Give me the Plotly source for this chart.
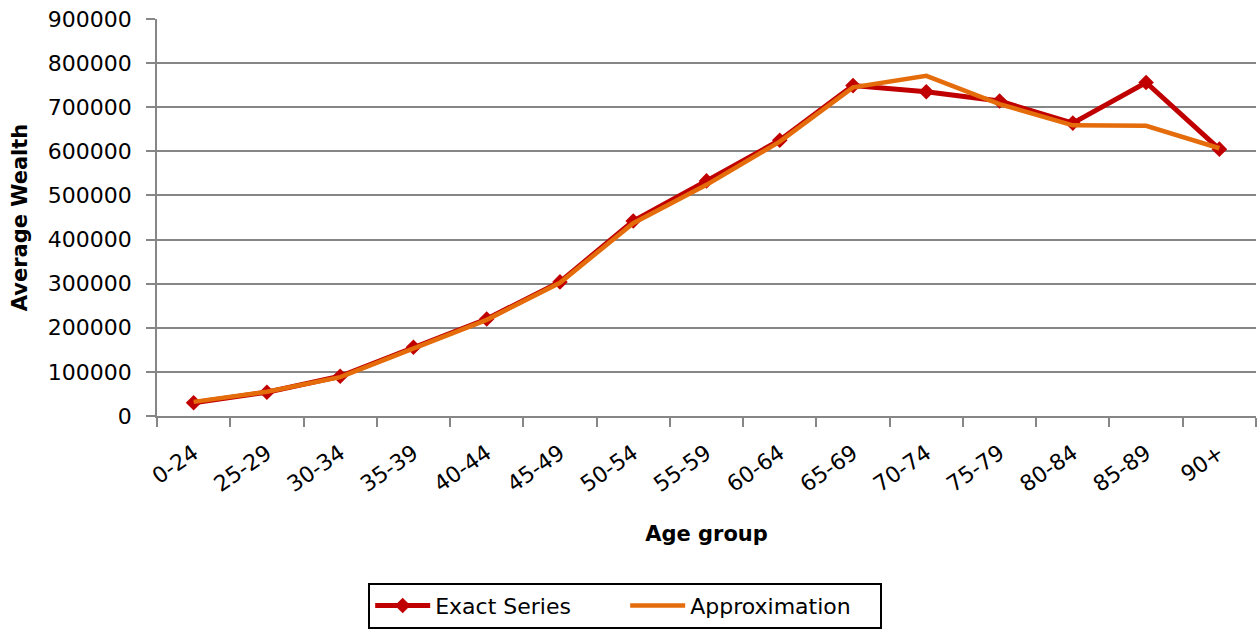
import plotly.graph_objects as go

age_groups = ['0-24', '25-29', '30-34', '35-39', '40-44', '45-49', '50-54', '55-59',
              '60-64', '65-69', '70-74', '75-79', '80-84', '85-89', '90+']
exact_series = [30000, 54000, 90000, 156000, 220000, 304000, 442000, 533000,
                625000, 749000, 735000, 714000, 664000, 756000, 605000]
approximation = [32000, 55000, 88000, 154000, 218000, 302000, 437000, 524000,
                 622000, 745000, 771000, 707000, 659000, 658000, 607000]

GRID = '#868686'
FONT = 'DejaVu Sans'

fig = go.Figure()
fig.add_trace(
    go.Scatter(
        x=age_groups,
        y=exact_series,
        mode='lines+markers',
        name='Exact Series',
        line=dict(color='#C00000', width=5),
        marker=dict(symbol='diamond', size=12, color='#C00000')
    )
)
fig.add_trace(
    go.Scatter(
        x=age_groups,
        y=approximation,
        mode='lines',
        name='Approximation',
        line=dict(color='#E46C0A', width=4.5)
    )
)

fig.update_layout(
    width=1257,
    height=634,
    margin=dict(l=157, r=1, t=19, b=218),
    plot_bgcolor='white',
    paper_bgcolor='white',
    font=dict(family=FONT, size=20, color='black'),
    showlegend=True,
    legend=dict(
        orientation='h',
        x=0.426,
        xanchor='center',
        y=-0.42,
        yanchor='top',
        bordercolor='black',
        borderwidth=2,
        font=dict(size=22),
        itemwidth=55,
        entrywidth=185,
    ),
    xaxis=dict(
        type='category',
        range=[-0.5, 14.5],
        automargin=True,
        title=dict(text='<b>Age group</b>', font=dict(size=21), standoff=30),
        tickangle=-35,
        tickfont=dict(size=22),
        ticklabelstandoff=14,
        showgrid=False,
        showline=True,
        linecolor=GRID,
        linewidth=1.5,
        ticks='outside',
        tickson='boundaries',
        ticklen=9,
        tickcolor=GRID,
        tickwidth=1.5,
    ),
    yaxis=dict(
        range=[0, 900000],
        dtick=100000,
        tickformat='d',
        automargin=False,
        title=dict(text='<b>Average Wealth</b>', font=dict(size=21)),
        tickfont=dict(size=22),
        ticklabelstandoff=10,
        showgrid=True,
        gridcolor=GRID,
        gridwidth=1.5,
        showline=True,
        linecolor=GRID,
        linewidth=1.5,
        ticks='outside',
        ticklen=9,
        tickcolor=GRID,
        tickwidth=1.5,
        zeroline=False,
    ),
)

# page body has a default 8px margin; drop it so the figure sits at 0,0
fig.write_html("out.html",
               config={'displayModeBar': False},
               post_script="document.body.style.margin='0';document.body.style.overflow='hidden';")
